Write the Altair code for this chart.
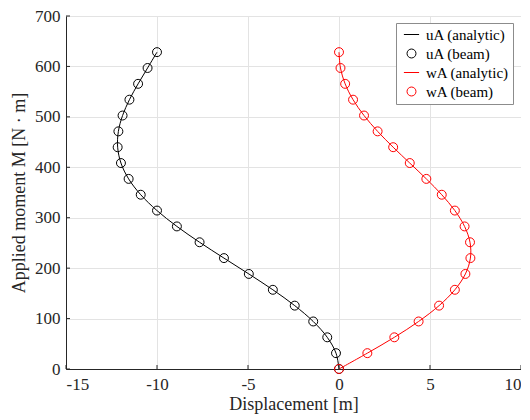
import altair as alt
import pandas as pd

# Applied moment M [N·m]
M_vals = [0.0, 31.42, 62.83, 94.25, 125.66, 157.08, 188.50, 219.91, 251.33, 282.74,
          314.16, 345.58, 376.99, 408.41, 439.82, 471.24, 502.65, 534.07, 565.49,
          596.90, 628.32]
# horizontal displacement u_A [m]
u_vals = [0.0, -0.164, -0.645, -1.416, -2.432, -3.634, -4.955, -6.321, -7.661, -8.907,
          -10.0, -10.894, -11.559, -11.981, -12.162, -12.122, -11.892, -11.515, -11.039,
          -10.518, -10.0]
# vertical displacement w_A [m]
w_vals = [0.0, 1.558, 3.040, 4.374, 5.499, 6.366, 6.945, 7.220, 7.198, 6.900,
          6.366, 5.646, 4.799, 3.888, 2.976, 2.122, 1.375, 0.772, 0.338, 0.082, 0.0]

series_names = ["uA (analytic)", "uA (beam)", "wA (analytic)", "wA (beam)"]
series_colors = ["#000000", "#000000", "#ff0000", "#ff0000"]
line_path = "M-1.7,0L1.7,0"
series_shapes = [line_path, "circle", line_path, "circle"]

x_ticks = [-15, -10, -5, 0, 5, 10]
y_ticks = [0, 100, 200, 300, 400, 500, 600, 700]

rows = []
for m, u, w in zip(M_vals, u_vals, w_vals):
    rows.append({"M": m, "d": u, "s": series_names[0]})
    rows.append({"M": m, "d": u, "s": series_names[1]})
    rows.append({"M": m, "d": w, "s": series_names[2]})
    rows.append({"M": m, "d": w, "s": series_names[3]})
df = pd.DataFrame(rows)

W, H = 455, 353
FONT = "'Liberation Serif', 'Times New Roman', serif"

xs = alt.Scale(domain=[-15, 10], nice=False, zero=False)
ys = alt.Scale(domain=[0, 700], nice=False, zero=False)

minus_fix = "datum.value < 0 ? '-' + abs(datum.value) : '' + datum.value"

xenc = alt.X("d:Q", scale=xs, axis=alt.Axis(values=x_ticks, title="Displacement [m]",
                                            labelExpr=minus_fix))
yenc = alt.Y("M:Q", scale=ys, axis=alt.Axis(values=y_ticks, title="Applied moment M [N · m]"))

color = alt.Color("s:N", scale=alt.Scale(domain=series_names, range=series_colors),
                  legend=alt.Legend(title=None, orient="none", legendX=330, legendY=7,
                                    strokeColor="#8c8c8c", fillColor="white",
                                    padding=4, rowPadding=3, symbolSize=80,
                                    symbolStrokeWidth=1, labelFont=FONT,
                                    labelFontSize=15, labelColor="#000000",
                                    symbolOffset=4, labelOffset=7))
shape = alt.Shape("s:N", scale=alt.Scale(domain=series_names, range=series_shapes))

base = alt.Chart(df)

lines = base.transform_filter(
    alt.FieldOneOfPredicate(field="s", oneOf=[series_names[0], series_names[2]])
).mark_line(strokeWidth=1, interpolate="catmull-rom").encode(
    x=xenc, y=yenc, color=color, detail="s:N", order="M:Q"
)

points = base.transform_filter(
    alt.FieldOneOfPredicate(field="s", oneOf=[series_names[1], series_names[3]])
).mark_point(filled=False, size=80, strokeWidth=1, opacity=1).encode(
    x=xenc, y=yenc, color=color, shape=shape
)

xt = alt.Chart(pd.DataFrame({"t": x_ticks})).mark_rule(color="#262626", strokeWidth=1).encode(
    x=alt.X("t:Q", scale=xs), y=alt.value(H), y2=alt.value(H - 4)
)
yt = alt.Chart(pd.DataFrame({"t": y_ticks})).mark_rule(color="#262626", strokeWidth=1).encode(
    y=alt.Y("t:Q", scale=ys), x=alt.value(0), x2=alt.value(4)
)

chart = alt.layer(lines, points, xt, yt).properties(
    width=W, height=H,
    autosize=alt.AutoSizeParams(type="none"),
    padding={"left": 58, "top": 8, "right": 0, "bottom": 60},
).configure(
    font=FONT
).configure_view(
    stroke="#d9d9d9", strokeWidth=1
).configure_axis(
    grid=True, gridColor="#e3e3e3", gridWidth=1,
    domainColor="#262626", domainWidth=1,
    ticks=False,
    labelFont=FONT, labelFontSize=17, labelColor="#262626",
    titleFont=FONT, titleFontSize=18, titleFontWeight="normal", titleColor="#262626",
).configure_axisX(
    titlePadding=3, labelAngle=0, labelPadding=7
).configure_axisY(
    titlePadding=6, labelPadding=6
)

chart.save("out.html", embed_options={"renderer": "svg", "actions": False})
